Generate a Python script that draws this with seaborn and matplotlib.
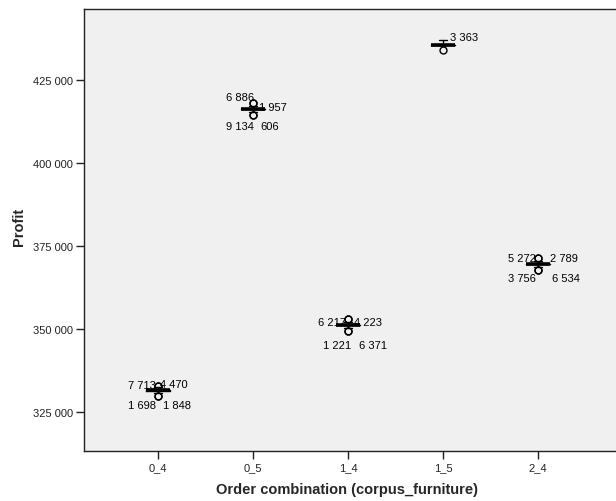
import matplotlib
matplotlib.use("Agg")
import matplotlib.pyplot as plt
import seaborn as sns
import pandas as pd
from matplotlib.ticker import FuncFormatter, MultipleLocator

# ---- data ----
groups = ["0_4", "0_5", "1_4", "1_5", "2_4"]

profit_0_4 = [331440, 331450, 331460, 331470, 331480, 331490, 331500, 331510, 331520,
              332400, 330800, 332950, 332940, 329850, 329840]
profit_0_5 = [416230, 416240, 416250, 416260, 416270, 416280, 416290, 416300, 416310,
              417300, 415400, 418150, 418140, 414350, 414340]
profit_1_4 = [351170, 351180, 351190, 351200, 351210, 351220, 351230, 351240, 351250,
              352200, 350300, 352900, 352890, 349450, 349440]
profit_1_5 = [435600, 435615, 435630, 435645, 435660, 435675, 435690, 435705, 435720,
              437100, 433920]
profit_2_4 = [369540, 369550, 369560, 369570, 369580, 369590, 369600, 369610, 369620,
              370600, 368700, 371300, 371290, 367800, 367790]

# outlier values and their case labels
outlier_values = {
    "0_4": [332950, 332940, 329850, 329840],
    "0_5": [418150, 418140, 414350, 414340],
    "1_4": [352900, 352890, 349450, 349440],
    "1_5": [433920],
    "2_4": [371300, 371290, 367800, 367790],
}
outlier_labels = {
    "0_4": ["7 713", "4 470", "1 698", "1 848"],
    "0_5": ["6 886", "1 957", "9 134", "606"],
    "1_4": ["6 217", "4 223", "1 221", "6 371"],
    "1_5": ["3 363"],
    "2_4": ["5 272", "2 789", "3 756", "6 534"],
}

# label placement (pixel offsets from the outlier point), styling only
label_style = {
    "0_4": [(-2, 1, "right"), (2, 2, "left"), (-2, -9, "right"), (5, -9, "left")],
    "0_5": [(1, 6, "right"), (6, -4, "left"), (1, -11, "right"), (7, -11, "left")],
    "1_4": [(-2, -3, "right"), (6, -3, "left"), (3, -14, "right"), (11, -14, "left")],
    "1_5": [(7, 13, "left")],
    "2_4": [(-2, 0, "right"), (12, 0, "left"), (-2, -8, "right"), (14, -8, "left")],
}

series = {"0_4": profit_0_4, "0_5": profit_0_5, "1_4": profit_1_4,
          "1_5": profit_1_5, "2_4": profit_2_4}
df = pd.DataFrame([(g, v) for g in groups for v in series[g]],
                  columns=["combo", "profit"])

# ---- figure ----
sns.set_style("white")
plt.rcParams["font.family"] = ["Liberation Sans", "DejaVu Sans"]

fig = plt.figure(figsize=(6.16, 5.02), dpi=100)
ax = fig.add_axes([84 / 616, 50 / 502, 623 / 616, 442 / 502])
ax.set_facecolor("#F0F0F0")

line_kw = dict(color="black", linewidth=1.0)
sns.boxplot(data=df, x="combo", y="profit", order=groups, ax=ax,
            width=0.26, whis=20, fill=False, linecolor="black", linewidth=1.0,
            capwidths=0.09,
            boxprops=dict(color="black", linewidth=1.0),
            whiskerprops=line_kw, capprops=line_kw,
            medianprops=dict(color="black", linewidth=2.6),
            flierprops=dict(marker="o", markersize=5, markerfacecolor="none",
                            markeredgecolor="black", markeredgewidth=1.0))

for i, g in enumerate(groups):
    for val, lab, (dx, dy, ha) in zip(outlier_values[g], outlier_labels[g], label_style[g]):
        ax.annotate(lab, xy=(i, val), xytext=(dx, dy), textcoords="offset pixels",
                    ha=ha, va="center", fontsize=8, color="black")

ax.set_xlim(-0.78, 5.78)
ax.set_ylim(313250, 446400)
ax.yaxis.set_major_locator(MultipleLocator(25000))
ax.yaxis.set_major_formatter(FuncFormatter(lambda v, p: f"{int(v):,}".replace(",", " ")))

for s in ax.spines.values():
    s.set_color("#222222")
    s.set_linewidth(1.0)

ax.tick_params(axis="both", which="major", direction="out", length=6, width=1,
               color="#222222", labelsize=8, labelcolor="#222222", pad=2,
               bottom=True, left=True)

ax.set_xlabel("Order combination (corpus_furniture)", fontsize=10.5, fontweight="bold")
ax.set_ylabel("Profit", fontsize=10.5, fontweight="bold")
ax.xaxis.set_label_coords((347 - 84) / 623, (452 - 483) / 442)
ax.yaxis.set_label_coords(-(84 - 26) / 623, (452 - 227) / 442)

fig.savefig("out.png", dpi=100)
